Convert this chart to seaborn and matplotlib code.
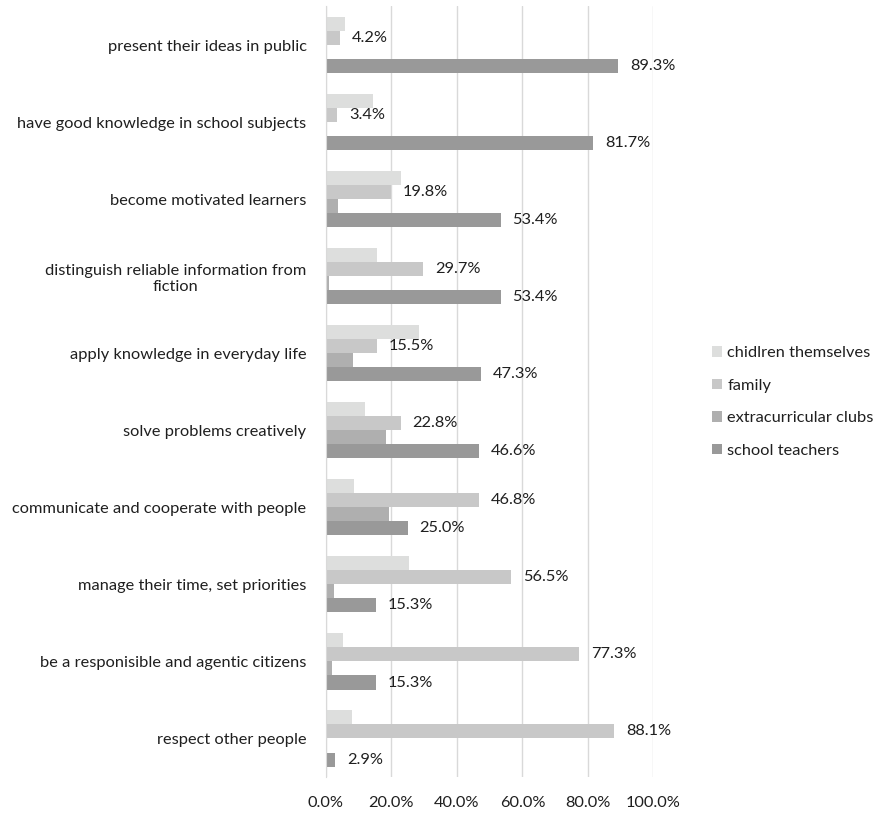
import matplotlib
matplotlib.use("Agg")
import matplotlib.pyplot as plt
import seaborn as sns
import pandas as pd
from matplotlib.ticker import FuncFormatter

skills = [
    "present their ideas in public",
    "have good knowledge in school subjects",
    "become motivated learners",
    "distinguish reliable information from\nfiction",
    "apply knowledge in everyday life",
    "solve problems creatively",
    "communicate and cooperate with people",
    "manage their time, set priorities",
    "be a responisible and agentic citizens",
    "respect other people",
]
sources = ["chidlren themselves", "family", "extracurricular clubs", "school teachers"]

children_vals = [5.8, 14.3, 22.9, 15.5, 28.5, 11.9, 8.6, 25.5, 5.3, 7.9]
family_vals = [4.2, 3.4, 19.8, 29.7, 15.5, 22.8, 46.8, 56.5, 77.3, 88.1]
clubs_vals = [0.4, 0.0, 3.6, 1.0, 8.4, 18.3, 19.2, 2.4, 1.7, 0.4]
teachers_vals = [89.3, 81.7, 53.4, 53.4, 47.3, 46.6, 25.0, 15.3, 15.3, 2.9]

colors = ["#DDDEDD", "#C8C8C8", "#AFAFAF", "#999999"]

rows = []
for src, vals in zip(sources, [children_vals, family_vals, clubs_vals, teachers_vals]):
    for sk, v in zip(skills, vals):
        rows.append({"skill": sk, "source": src, "value": v})
df = pd.DataFrame(rows)

sns.set_style("white")
plt.rcParams["font.family"] = ["Lato", "DejaVu Sans"]

FS = 11.8
TXT = "#1F1F1F"

fig = plt.figure(figsize=(8.82, 8.13), dpi=100)
ax = fig.add_axes([326 / 882, 1 - 777 / 813, (653.3 - 326) / 882, (777 - 6.5) / 813])

sns.barplot(data=df, y="skill", x="value", hue="source", orient="h",
            order=skills, hue_order=sources, palette=colors, width=0.73,
            linewidth=0, ax=ax, errorbar=None)

ax.set_xlim(0, 100)
ax.set_xticks([0, 20, 40, 60, 80, 100])
ax.xaxis.set_major_formatter(FuncFormatter(lambda v, p: f"{v:.1f}%"))
ax.grid(axis="x", color="#D9D9D9", linewidth=1)
ax.set_axisbelow(True)
for s in ["top", "right", "bottom"]:
    ax.spines[s].set_visible(False)
ax.spines["left"].set_color("#D9D9D9")
ax.set_xlabel("")
ax.set_ylabel("")
ax.tick_params(axis="both", length=0, labelsize=FS, labelcolor=TXT)
ax.tick_params(axis="x", pad=14)
ax.tick_params(axis="y", pad=14)
for lab in ax.get_yticklabels():
    lab.set_multialignment("center")

for i in (1, 3):
    ax.bar_label(ax.containers[i], fmt="%.1f%%", padding=8.5, fontsize=FS, color=TXT)

handles, labels = ax.get_legend_handles_labels()
ax.legend(handles, labels, loc="center left", bbox_to_anchor=(704 / 882, 1 - 402 / 813),
          bbox_transform=fig.transFigure, frameon=False, fontsize=FS,
          handlelength=0.62, handleheight=0.62, handletextpad=0.3,
          labelspacing=1.12, borderpad=0, labelcolor=TXT)

fig.savefig("out.png", dpi=100, facecolor="white")
